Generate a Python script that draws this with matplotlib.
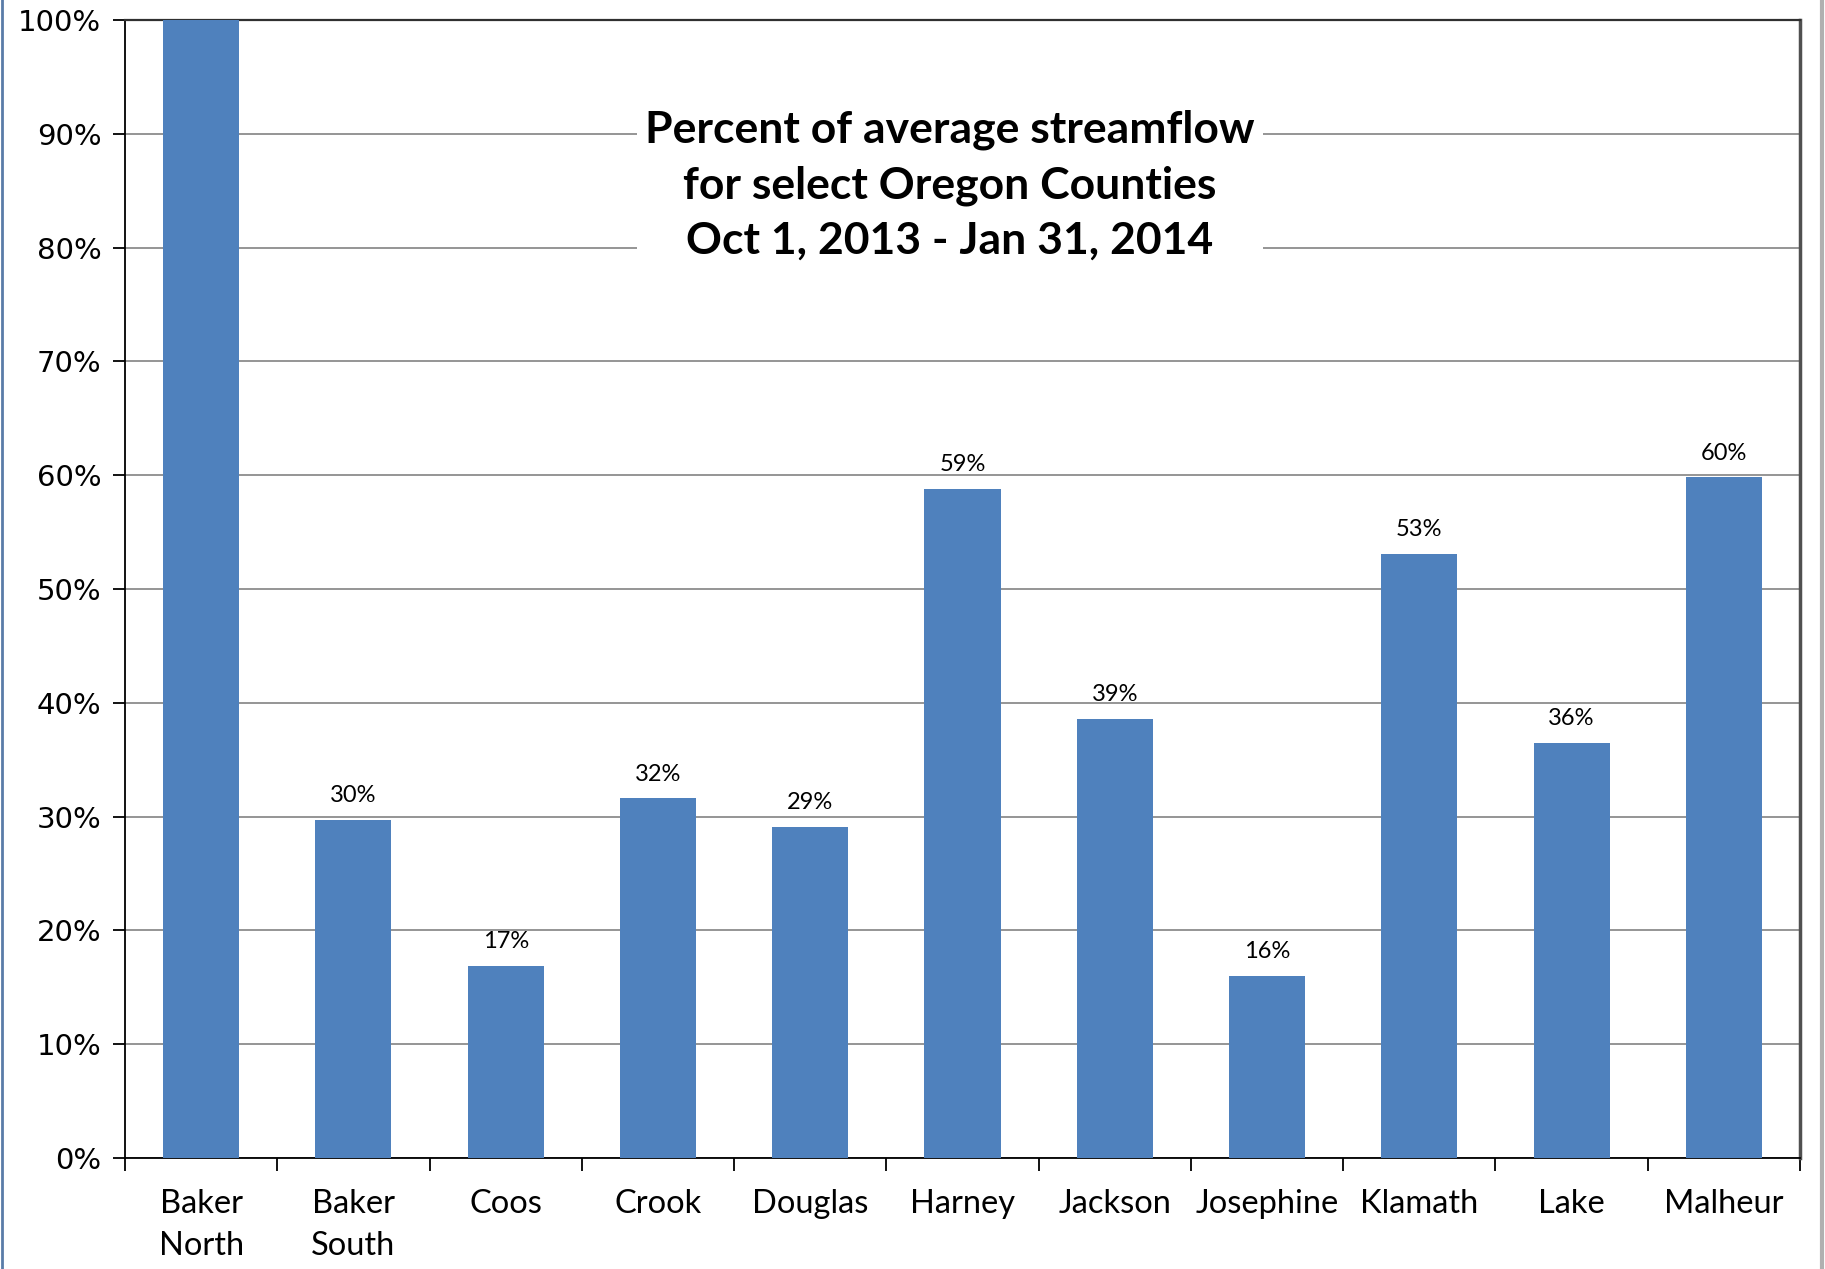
import matplotlib
matplotlib.use('Agg')
import matplotlib.pyplot as plt
from matplotlib.lines import Line2D
import numpy as np

COUNTIES = ['Baker\nNorth', 'Baker\nSouth', 'Coos', 'Crook', 'Douglas', 'Harney',
            'Jackson', 'Josephine', 'Klamath', 'Lake', 'Malheur']
PERCENT = [100, 29.7, 16.9, 31.6, 29.1, 58.8, 38.6, 16.0, 53.1, 36.5, 59.8]
LABELS = [None, '30%', '17%', '32%', '29%', '59%', '39%', '16%', '53%', '36%', '60%']
Y_TICKS = np.arange(0, 101, 10)
TITLE = 'Percent of average streamflow\nfor select Oregon Counties\nOct 1, 2013 - Jan 31, 2014'

BAR_COLOR = '#4F81BD'

fig = plt.figure(figsize=(18.25, 12.69), dpi=100)
ax = fig.add_axes([0.0685, 0.0875, 0.9178, 0.8967])

x = np.arange(len(COUNTIES))
ax.bar(x, PERCENT, width=0.5, color=BAR_COLOR, zorder=3)

for xi, val, lab in zip(x, PERCENT, LABELS):
    if lab:
        ax.text(xi, val + 1.2, lab, ha='center', va='bottom',
                fontsize=17, family='Lato', color='#000000', zorder=4)

ax.set_xlim(-0.5, len(COUNTIES) - 0.5)
ax.set_ylim(0, 100)

ax.set_yticks(Y_TICKS)
ax.set_yticklabels([f'{v}%' for v in Y_TICKS], fontsize=21, family='DejaVu Sans')
ax.yaxis.grid(True, color='#8c8c8c', linewidth=1.3, zorder=0)

ax.set_xticks(x)
ax.set_xticklabels(COUNTIES, fontsize=23.5, family='Lato', linespacing=1.5)
ax.set_xticks(np.arange(-0.5, len(COUNTIES)), minor=True)
ax.tick_params(axis='x', which='major', length=0, pad=22)
ax.tick_params(axis='x', which='minor', length=9, width=1.3, color='#000000', direction='out')
ax.tick_params(axis='y', length=9, width=1.3, pad=8, direction='out')

ax.spines['left'].set_color('#000000')
ax.spines['bottom'].set_color('#000000')
ax.spines['top'].set_color('#303030')
ax.spines['right'].set_color('#505050')
ax.spines['left'].set_linewidth(1.3)
ax.spines['bottom'].set_linewidth(1.3)
ax.spines['top'].set_linewidth(1.6)
ax.spines['right'].set_linewidth(2.5)

ax.text(0.4925, 0.855, TITLE, transform=ax.transAxes, ha='center', va='center',
        fontsize=32, fontweight='bold', family='Lato', linespacing=1.45,
        bbox=dict(facecolor='white', edgecolor='none', pad=6), zorder=5)

# window borders of the screenshot
fig.add_artist(Line2D([0.0012, 0.0012], [0, 1], transform=fig.transFigure,
                      color='#5a7ca8', linewidth=2))
fig.add_artist(Line2D([0.9985, 0.9985], [0, 1], transform=fig.transFigure,
                      color='#b0b0b0', linewidth=3))

fig.savefig('out.png', dpi=100)
